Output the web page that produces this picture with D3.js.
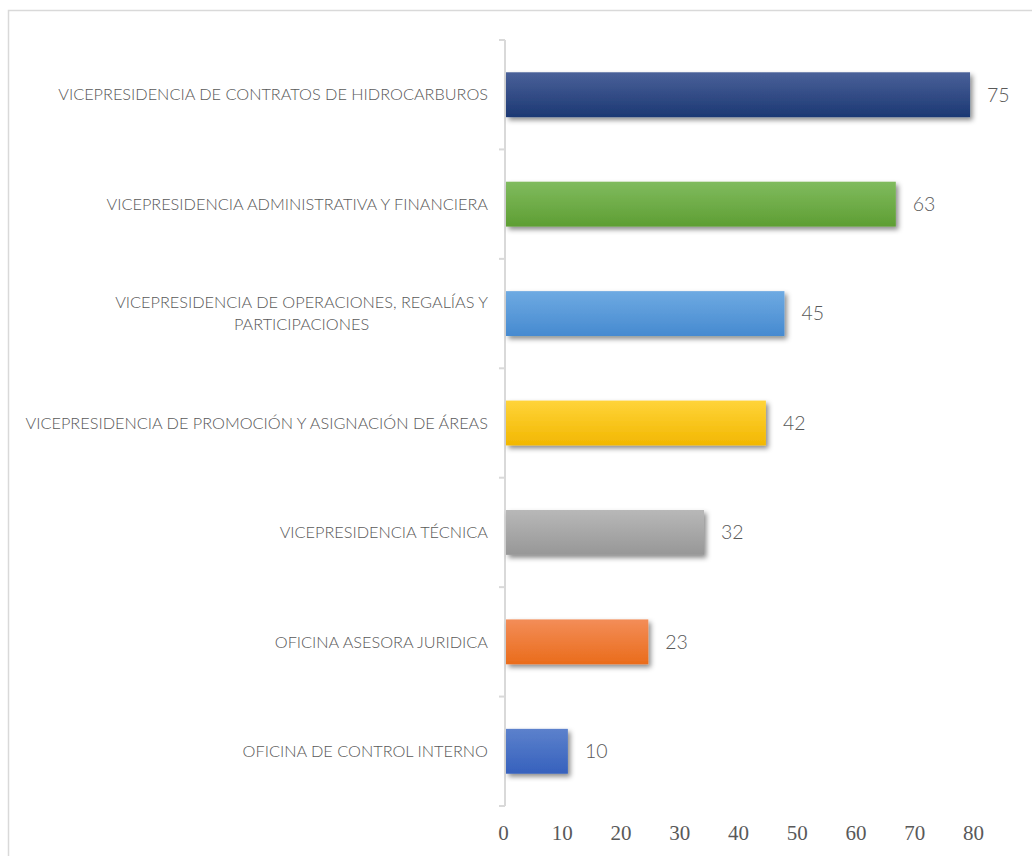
<!DOCTYPE html>
<html>
<head>
<meta charset="utf-8">
<script src="https://cdn.jsdelivr.net/npm/d3@7"></script>
<style>
  html, body { margin: 0; padding: 0; background: #fff; }
  svg { display: block; }
</style>
</head>
<body>
<svg id="chart" width="1032" height="856"></svg>
<script>
const categories = [
  "VICEPRESIDENCIA DE CONTRATOS DE HIDROCARBUROS",
  "VICEPRESIDENCIA ADMINISTRATIVA Y FINANCIERA",
  "VICEPRESIDENCIA DE OPERACIONES, REGALÍAS Y|PARTICIPACIONES",
  "VICEPRESIDENCIA DE PROMOCIÓN Y ASIGNACIÓN DE ÁREAS",
  "VICEPRESIDENCIA TÉCNICA",
  "OFICINA ASESORA JURIDICA",
  "OFICINA DE CONTROL INTERNO"
];
const values = [75, 63, 45, 42, 32, 23, 10];
const tickValues = [0, 10, 20, 30, 40, 50, 60, 70, 80];
const barColors = [
  ["#4a6199", "#1c3873"],
  ["#80bb5e", "#5e9e33"],
  ["#6eaae2", "#468ad0"],
  ["#ffd43a", "#f2b700"],
  ["#b8b8b8", "#979797"],
  ["#f38d58", "#ea6c1b"],
  ["#5c81cc", "#3661bd"]
];

const svg = d3.select("#chart");
const defs = svg.append("defs");

const shadow = defs.append("filter").attr("id", "shadow")
  .attr("x", "-10%").attr("y", "-30%").attr("width", "130%").attr("height", "180%");
shadow.append("feDropShadow").attr("dx", 2.5).attr("dy", 3).attr("stdDeviation", 2.5)
  .attr("flood-color", "#000").attr("flood-opacity", 0.45);

barColors.forEach((c, i) => {
  const g = defs.append("linearGradient").attr("id", "grad" + i)
    .attr("x1", 0).attr("y1", 0).attr("x2", 0).attr("y2", 1);
  g.append("stop").attr("offset", "0%").attr("stop-color", c[0]);
  g.append("stop").attr("offset", "100%").attr("stop-color", c[1]);
});

// chart border
svg.append("rect").attr("x", 8.5).attr("y", 10.5).attr("width", 1040).attr("height", 870)
  .attr("fill", "none").attr("stroke", "#d9d9d9").attr("stroke-width", 1.5);

const y = d3.scaleBand().domain(categories).range([40, 806])
  .paddingInner(0.59).paddingOuter(0.295);
const xBar = d3.scaleLinear().domain([0, 80]).range([506, 1001]);
const xTick = d3.scaleLinear().domain([0, 80]).range([503, 973]);

// category axis line + ticks
const step = y.step();
svg.append("line").attr("x1", 505).attr("x2", 505).attr("y1", 40).attr("y2", 806)
  .attr("stroke", "#d9d9d9").attr("stroke-width", 2);
const bounds = d3.range(categories.length + 1).map(i => 40 + i * step);
svg.selectAll("line.tk").data(bounds).join("line").attr("class", "tk")
  .attr("x1", 499).attr("x2", 505).attr("y1", d => d).attr("y2", d => d)
  .attr("stroke", "#d9d9d9").attr("stroke-width", 2);

// bars
svg.selectAll("rect.bar").data(values).join("rect").attr("class", "bar")
  .attr("x", xBar(0))
  .attr("y", (d, i) => y(categories[i]))
  .attr("width", d => xBar(d) - xBar(0))
  .attr("height", y.bandwidth())
  .attr("fill", (d, i) => `url(#grad${i})`)
  .attr("filter", "url(#shadow)");

// value labels
svg.selectAll("text.val").data(values).join("text").attr("class", "val")
  .attr("x", d => xBar(d) + 17)
  .attr("y", (d, i) => y(categories[i]) + y.bandwidth() / 2)
  .attr("dy", "0.35em")
  .attr("font-family", "Lato, 'Open Sans', sans-serif")
  .attr("font-weight", 300)
  .attr("font-size", 19.5)
  .attr("fill", "#595959")
  .text(d => d);

// category labels
const labels = svg.selectAll("g.lab").data(categories).join("g").attr("class", "lab")
  .attr("transform", d => `translate(488,${y(d) + y.bandwidth() / 2})`);
labels.each(function(d) {
  const g = d3.select(this);
  const lines = d.split("|");
  const lh = 22;
  const t = g.append("text")
    .attr("font-family", "Lato, 'Open Sans', sans-serif")
    .attr("font-weight", 300)
    .attr("font-size", 16.3)
    .attr("fill", "#595959");
  if (lines.length === 1) {
    t.attr("text-anchor", "end").attr("dy", "0.35em").text(lines[0]);
  } else {
    const t1 = t.append("tspan").attr("x", 0).attr("y", -lh / 2).attr("dy", "0.35em")
      .attr("text-anchor", "end").text(lines[0]);
    const w = t1.node().getComputedTextLength();
    t.append("tspan").attr("x", -w / 2).attr("y", lh / 2).attr("dy", "0.35em")
      .attr("text-anchor", "middle").text(lines[1]);
  }
});

// value axis (tick labels only)
const axis = d3.axisBottom(xTick).tickValues(tickValues).tickSize(0).tickPadding(0);
const ag = svg.append("g").attr("transform", "translate(0,825)").call(axis);
ag.select(".domain").remove();
ag.selectAll("text")
  .attr("font-family", "'Liberation Serif', 'DejaVu Serif', serif")
  .attr("font-size", 21)
  .attr("fill", "#595959");
</script>
</body>
</html>
